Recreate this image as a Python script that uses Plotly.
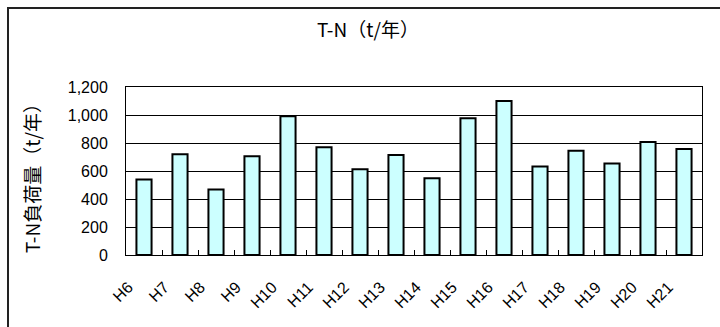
import plotly.graph_objects as go

# Annual T-N load by fiscal year (Heisei era)
years = ["H6", "H7", "H8", "H9", "H10", "H11", "H12", "H13",
         "H14", "H15", "H16", "H17", "H18", "H19", "H20", "H21"]
tn_load = [540, 720, 468, 706, 991, 770, 613, 715,
           549, 977, 1100, 632, 744, 653, 808, 758]
y_ticks = [0, 200, 400, 600, 800, 1000, 1200]
y_tick_text = ["0", "200", "400", "600", "800", "1,000", "1,200"]

W, H = 720, 327
ML, MR, MT, MB = 126, 18, 87, 72
PW, PH = W - ML - MR, H - MT - MB

LATIN = "Liberation Sans"
CJK = "Noto Sans CJK JP"

# trailing no-break spaces push the slanted labels down-left from the tick
x_tick_text = [y + "\u00a0" * 5 for y in years]

fig = go.Figure(
    go.Bar(
        x=years,
        y=tn_load,
        marker=dict(color="#CCFFFF", line=dict(color="#000000", width=2)),
        width=0.42,
    )
)

fig.update_layout(
    width=W,
    height=H,
    margin=dict(l=ML, r=MR, t=MT, b=MB),
    paper_bgcolor="white",
    plot_bgcolor="white",
    showlegend=False,
    font=dict(family=LATIN, size=16, color="#000000"),
    title=dict(
        text="T-N（t/年）",
        x=368 / W,
        xanchor="center",
        y=1 - 30 / H,
        yanchor="middle",
        font=dict(family=CJK, size=19, color="#000000"),
    ),
    xaxis=dict(
        type="category",
        range=[-0.5, len(years) - 0.5],
        tickvals=years,
        ticktext=x_tick_text,
        tickangle=-45,
        ticks="inside",
        tickson="boundaries",
        ticklen=5,
        tickcolor="#000000",
        showline=True,
        linecolor="#000000",
        linewidth=1,
        mirror=True,
        showgrid=False,
        tickfont=dict(family=LATIN, size=16),
    ),
    yaxis=dict(
        range=[0, 1200],
        tickvals=y_ticks,
        ticktext=y_tick_text,
        showgrid=True,
        gridcolor="#000000",
        gridwidth=1,
        showline=True,
        linecolor="#000000",
        linewidth=1,
        mirror=True,
        ticks="",
        ticklabelstandoff=14,
        zeroline=False,
        tickfont=dict(family=LATIN, size=16),
    ),
    annotations=[
        dict(
            text="T-N負荷量（t/年）",
            xref="paper",
            yref="paper",
            x=(31 - ML) / PW,
            y=(255 - 174) / PH,
            xanchor="center",
            yanchor="middle",
            textangle=-90,
            showarrow=False,
            font=dict(family=CJK, size=19, color="#000000"),
        )
    ],
    shapes=[
        dict(
            type="rect",
            xref="paper",
            yref="paper",
            x0=(8 - ML) / PW,
            x1=1.2,
            y0=-0.8,
            y1=(H - MB - 8) / PH,
            line=dict(color="#222222", width=2),
            layer="below",
        )
    ],
)

fig.write_html("out.html")
